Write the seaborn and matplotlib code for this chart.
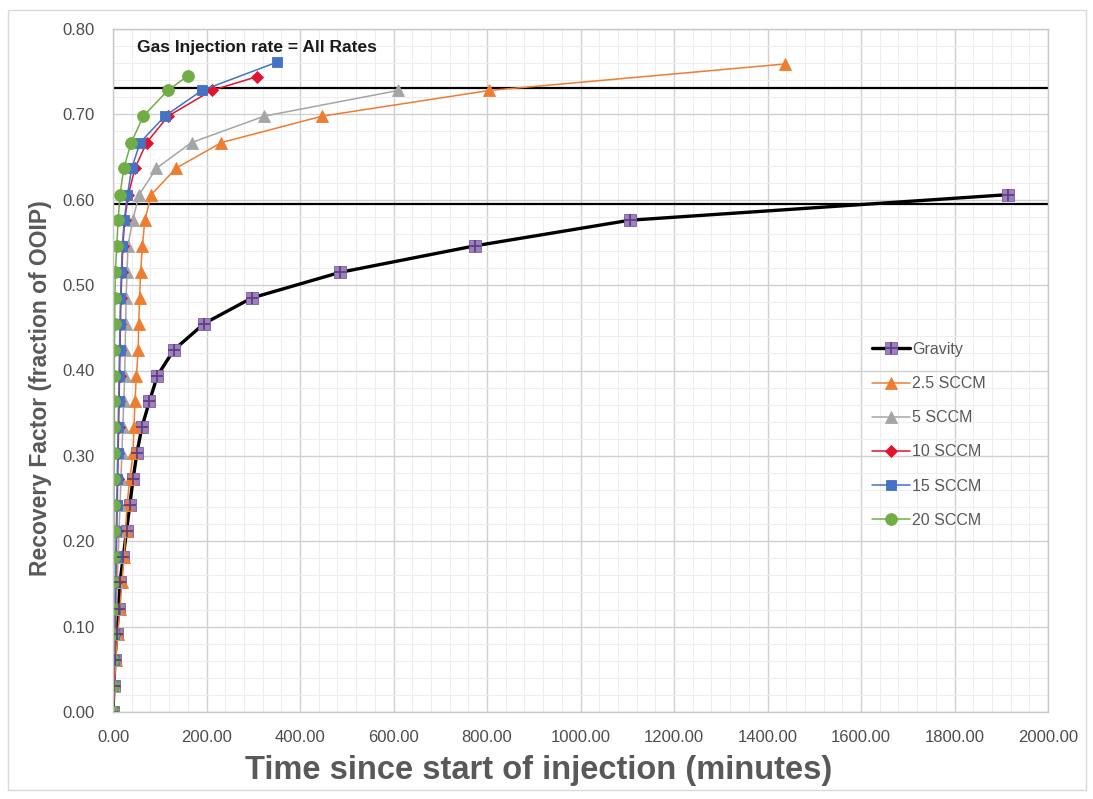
import numpy as np
import pandas as pd
import matplotlib
matplotlib.use("Agg")
import matplotlib.pyplot as plt
import seaborn as sns
from matplotlib.lines import Line2D
from matplotlib.legend_handler import HandlerTuple
from matplotlib.ticker import MultipleLocator, FormatStrFormatter
from matplotlib.patches import Rectangle

# ---------------- data ----------------
series_names = ["Gravity", "2.5 SCCM", "5 SCCM", "10 SCCM", "15 SCCM", "20 SCCM"]

gravity_time = [0, 2, 4, 8, 12, 15, 22, 29, 36, 43, 51, 62, 78, 95, 130, 195, 297, 486, 774, 1105, 1915]
gravity_rf = [0.000, 0.030, 0.061, 0.091, 0.121, 0.152, 0.182, 0.212, 0.243, 0.273, 0.303,
              0.334, 0.364, 0.394, 0.424, 0.455, 0.485, 0.515, 0.546, 0.576, 0.606]

sccm25_time = [0, 3, 6, 10, 15, 19, 24, 27, 30, 36, 43, 45, 47, 50, 54, 55, 57, 59, 63, 68,
               82, 135, 232, 448, 805, 1437]
sccm25_rf = [0.000, 0.030, 0.061, 0.091, 0.121, 0.152, 0.182, 0.212, 0.243, 0.273, 0.303,
             0.334, 0.364, 0.394, 0.424, 0.455, 0.485, 0.515, 0.546, 0.576, 0.606, 0.637,
             0.667, 0.698, 0.728, 0.759]

sccm5_time = [0, 2, 3, 5, 7, 9, 11, 13, 15, 17, 19, 21, 23, 25, 26, 27, 28, 30, 32, 42,
              56, 93, 168, 324, 610]
sccm5_rf = [0.000, 0.030, 0.061, 0.091, 0.121, 0.152, 0.182, 0.212, 0.243, 0.273, 0.303,
            0.334, 0.364, 0.394, 0.424, 0.455, 0.485, 0.515, 0.546, 0.576, 0.606, 0.637,
            0.667, 0.698, 0.728]

sccm10_time = [0, 2, 3, 4, 5, 6, 7, 8, 9, 10, 11, 12, 13, 14, 15, 16, 17, 19, 21, 25,
               33, 47, 72, 118, 211, 307]
sccm10_rf = [0.000, 0.030, 0.061, 0.091, 0.121, 0.152, 0.182, 0.212, 0.243, 0.273, 0.303,
             0.334, 0.364, 0.394, 0.424, 0.455, 0.485, 0.515, 0.546, 0.576, 0.606, 0.637,
             0.667, 0.698, 0.728, 0.744]

sccm15_time = [0, 1, 2, 3, 4, 5, 6, 7, 8, 9, 10, 11, 12, 13, 14, 15, 16, 18, 20, 24,
               31, 40, 58, 111, 190, 350]
sccm15_rf = [0.000, 0.030, 0.061, 0.091, 0.121, 0.152, 0.182, 0.212, 0.243, 0.273, 0.303,
             0.334, 0.364, 0.394, 0.424, 0.455, 0.485, 0.515, 0.546, 0.576, 0.606, 0.637,
             0.667, 0.698, 0.728, 0.761]

sccm20_time = [0, 0, 1, 1, 1, 1, 2, 2, 2, 2, 3, 3, 3, 3, 3, 4, 4, 5, 8, 11,
               15, 23, 39, 65, 117, 160]
sccm20_rf = [0.000, 0.030, 0.061, 0.091, 0.121, 0.152, 0.182, 0.212, 0.243, 0.273, 0.303,
             0.334, 0.364, 0.394, 0.424, 0.455, 0.485, 0.515, 0.546, 0.576, 0.606, 0.637,
             0.667, 0.698, 0.728, 0.745]

reference_levels = [0.595, 0.731]
title_text = "Gas Injection rate = All Rates"
x_label = "Time since start of injection (minutes)"
y_label = "Recovery Factor (fraction of OOIP)"
x_ticks = [0, 200, 400, 600, 800, 1000, 1200, 1400, 1600, 1800, 2000]
y_ticks = [0.0, 0.1, 0.2, 0.3, 0.4, 0.5, 0.6, 0.7, 0.8]

frames = []
for name, t, r in [
    ("Gravity", gravity_time, gravity_rf),
    ("2.5 SCCM", sccm25_time, sccm25_rf),
    ("5 SCCM", sccm5_time, sccm5_rf),
    ("10 SCCM", sccm10_time, sccm10_rf),
    ("15 SCCM", sccm15_time, sccm15_rf),
    ("20 SCCM", sccm20_time, sccm20_rf),
]:
    frames.append(pd.DataFrame({"series": name, "time": t, "rf": r}))
df = pd.concat(frames, ignore_index=True)

# ---------------- style ----------------
sns.set_theme(style="white")
plt.rcParams["font.family"] = ["Liberation Sans", "DejaVu Sans"]

styles = {
    "Gravity":  dict(color="black", lw=2.4, marker="s", ms=8.5, mfc="#9D80BE", mec="#7A5C9C"),
    "2.5 SCCM": dict(color="#ED7D31", lw=1.1, marker="^", ms=9, mfc="#ED7D31", mec="#ED7D31"),
    "5 SCCM":   dict(color="#A5A5A5", lw=1.1, marker="^", ms=8, mfc="#A5A5A5", mec="#A5A5A5"),
    "10 SCCM":  dict(color="#E0142C", lw=1.1, marker="D", ms=6.5, mfc="#E0142C", mec="#E0142C"),
    "15 SCCM":  dict(color="#4472C4", lw=1.1, marker="s", ms=7.5, mfc="#4472C4", mec="#4472C4"),
    "20 SCCM":  dict(color="#70AD47", lw=1.1, marker="o", ms=8.5, mfc="#70AD47", mec="#70AD47"),
}

fig = plt.figure(figsize=(10.93, 7.99), dpi=100)
ax = fig.add_axes([113 / 1093, 1 - 712 / 799, (1048 - 113) / 1093, (712 - 29) / 799])

# grid
ax.set_xlim(0, 2000)
ax.set_ylim(0, 0.8)
ax.xaxis.set_major_locator(MultipleLocator(200))
ax.xaxis.set_minor_locator(MultipleLocator(40))
ax.yaxis.set_major_locator(MultipleLocator(0.1))
ax.yaxis.set_minor_locator(MultipleLocator(0.02))
ax.grid(which="major", color="#D0D0D0", lw=1.0, zorder=0)
ax.grid(which="minor", color="#EEEEEE", lw=0.8, zorder=0)
ax.set_axisbelow(True)

for lvl in reference_levels:
    ax.axhline(lvl, color="black", lw=1.6, zorder=1.5)

for name in series_names:
    st = styles[name]
    sub = df[df["series"] == name]
    sns.lineplot(data=sub, x="time", y="rf", ax=ax, sort=False, estimator=None,
                 color=st["color"], linewidth=st["lw"], marker=st["marker"],
                 markersize=st["ms"], markerfacecolor=st["mfc"],
                 markeredgecolor=st["mec"], markeredgewidth=0.6, zorder=2,
                 legend=False)
    if name == "Gravity":
        sns.scatterplot(data=sub, x="time", y="rf", ax=ax, marker="+", s=70,
                        color="#5E3F80", linewidth=1.3, zorder=2.1, legend=False)

ax.set_xticks(x_ticks)
ax.set_yticks(y_ticks)
ax.xaxis.set_major_formatter(FormatStrFormatter("%.2f"))
ax.yaxis.set_major_formatter(FormatStrFormatter("%.2f"))
ax.tick_params(axis="both", which="both", length=0, labelsize=12, labelcolor="#4D4D4D")
ax.tick_params(axis="x", pad=13)
ax.tick_params(axis="y", pad=13)
for sp in ax.spines.values():
    sp.set_color("#C8C8C8")
    sp.set_linewidth(1.0)

ax.set_xlabel("")
ax.set_ylabel("")
fig.text(539 / 1093, 1 - 770 / 799, x_label, ha="center", va="center",
         fontsize=23.5, fontweight="bold", color="#595959")
fig.text(41 / 1093, 1 - 388 / 799, y_label, ha="center", va="center", rotation=90,
         fontsize=16.5, fontweight="bold", color="#595959")

ax.text(51, 0.778, title_text, ha="left", va="center", fontsize=12.5,
        fontweight="bold", color="#1A1A1A", zorder=3)

# legend
handles = []
for name in series_names:
    st = styles[name]
    h = Line2D([], [], color=st["color"], lw=st["lw"], marker=st["marker"],
               markersize=st["ms"], markerfacecolor=st["mfc"],
               markeredgecolor=st["mec"], markeredgewidth=0.6)
    if name == "Gravity":
        plus = Line2D([], [], ls="none", marker="+", markersize=8.5,
                      markeredgecolor="#5E3F80", markeredgewidth=1.3)
        h = (h, plus)
    handles.append(h)
leg = ax.legend(handles, series_names, loc="upper left",
                bbox_to_anchor=((872 - 113) / 935, (712 - 342) / 683),
                frameon=False, fontsize=11.5, handlelength=2.4, handletextpad=0.1,
                labelspacing=1.2, borderaxespad=0, borderpad=0,
                handler_map={tuple: HandlerTuple(ndivide=1)})
for txt in leg.get_texts():
    txt.set_color("#595959")

fig.patches.append(Rectangle((8 / 1093, 1 - 790 / 799), (1086 - 8) / 1093, (790 - 10) / 799,
                             transform=fig.transFigure, fill=False,
                             edgecolor="#D9D9D9", lw=1.0))

fig.savefig("out.png", dpi=100, facecolor="white")
